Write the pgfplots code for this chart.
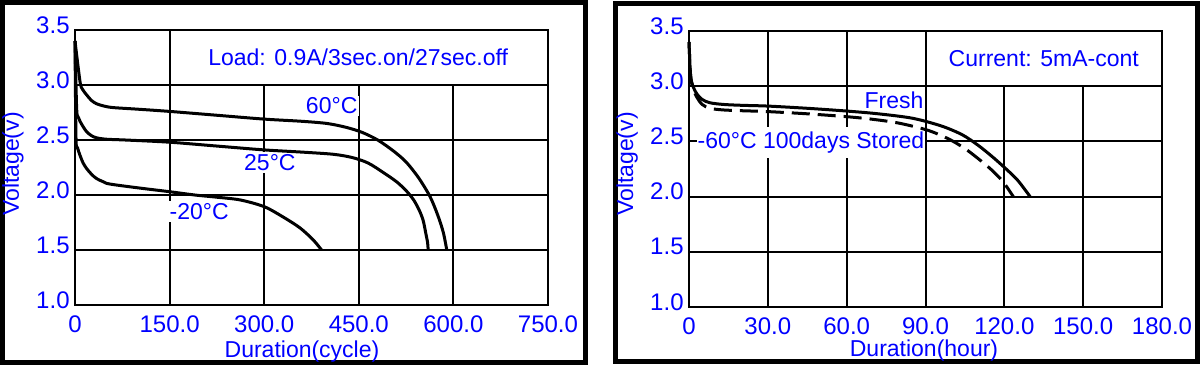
\documentclass[border=0pt]{standalone}
\usepackage{pgfplots}
\pgfplotsset{compat=1.18}
\usepackage{fontspec}
\setmainfont{Liberation Sans}
\begin{document}
\fontsize{11.5}{13}\selectfont
\begin{tikzpicture}
\useasboundingbox (0,0) rectangle (600.5pt,183pt);
\pgfplotsset{
  battery/.style={
    scale only axis,
    width=236.5pt,
    anchor=south west,
    ymin=1, ymax=3.5,
    ytick={1,1.5,2,2.5,3,3.5},
    yticklabels={1.0,1.5,2.0,2.5,3.0,3.5},
    grid=major,
    major grid style={black, line width=1pt},
    axis line style={black, line width=1pt},
    major tick length=0pt,
    tick label style={text=blue, font=\fontsize{12}{14}\selectfont},
    xticklabel style={inner sep=0pt, yshift=-5pt},
    yticklabel style={inner sep=0pt, xshift=-2.5pt, yshift=2.5pt},
    /pgf/number format/assume math mode=true,
    clip=false,
  },
  curve/.style={black, line width=1.5pt, smooth, tension=0.5, no markers, line join=round},
}
% ---------------- left panel
\begin{axis}[battery, at={(37.5pt,30.5pt)}, height=137.5pt,
  xmin=0, xmax=750, xtick={0,150,300,450,600,750},
  xticklabels={0,150.0,300.0,450.0,600.0,750.0}]
\draw[fill=white, line width=1pt] (axis cs:150,3.0) rectangle (axis cs:750,3.5);
\node[text=blue] at (axis cs:449,3.255) {Load: 0.9A/3sec.on/27sec.off};
\node[text=blue, fill=white, inner sep=1pt] at (axis cs:407,2.81) {60°C};
\node[text=blue, fill=white, inner sep=1pt] at (axis cs:309,2.295) {25°C};
\node[text=blue, fill=white, inner sep=1pt] at (axis cs:197,1.85) {-20°C};
\addplot[curve] coordinates {
 (0,3.40) (8,3.03) (12,2.96) (18.5,2.91) (26,2.86) (34,2.83) (45,2.81) (60,2.795)
 (100,2.78) (150,2.76) (225,2.725) (300,2.69) (360,2.67) (400,2.65) (430,2.615)
 (455,2.57) (480,2.50) (505,2.40) (525,2.30) (545,2.155) (563,1.985) (575,1.82)
 (584,1.66) (589.5,1.5)};
\addplot[curve] coordinates {
 (0,3.40) (2.6,2.79) (5,2.71) (8,2.67) (13,2.62) (18.5,2.575) (26,2.54) (34,2.52)
 (50,2.507) (80,2.50) (150,2.48) (225,2.445) (300,2.41) (360,2.39) (410,2.37)
 (440,2.34) (465,2.29) (490,2.20) (510,2.12) (525,2.04) (537,1.955) (546,1.86)
 (552,1.77) (556,1.66) (559,1.57) (560,1.5)};
\addplot[curve] coordinates {
 (0,3.40) (1.6,2.515) (4,2.43) (8,2.36) (13,2.29) (18.5,2.24) (26,2.19) (34,2.15)
 (45,2.12) (55,2.10) (100,2.065) (150,2.03) (190,2.00) (225,1.98) (262,1.955)
 (300,1.894) (330,1.80) (357,1.70) (378,1.59) (391,1.5)};
\end{axis}
\draw[line width=2.5pt] (1.25pt,1.75pt) rectangle (292.5pt,181.75pt);
\node[text=blue, anchor=base] at (151pt,4.5pt) {Duration(cycle)};
\node[text=blue, anchor=base, rotate=90] at (9.5pt,101pt) {Voltage(v)};
% ---------------- right panel
\begin{axis}[battery, at={(344.5pt,29.5pt)}, height=138pt,
  xmin=0, xmax=180, xtick={0,30,60,90,120,150,180},
  xticklabels={0,30.0,60.0,90.0,120.0,150.0,180.0}]
\draw[fill=white, line width=1pt] (axis cs:90,3.0) rectangle (axis cs:180,3.5);
\node[text=blue] at (axis cs:135,3.25) {Current: 5mA-cont};
\node[text=blue, fill=white, inner sep=1pt] at (axis cs:78,2.87) {Fresh};
\node[text=blue, fill=white, inner xsep=0.5pt, inner ysep=2.5pt] at (axis cs:46.4,2.49) {-60°C 100days Stored};
\addplot[curve] coordinates {
 (0,3.40) (0.6,3.1) (1.5,3.0) (3,2.93) (5,2.88) (8,2.85) (13,2.835) (20,2.827)
 (30,2.82) (45,2.80) (60,2.775) (72,2.75) (85,2.71) (96,2.64) (104,2.56) (110,2.465)
 (115,2.37) (120,2.265) (125,2.15) (129.8,2.0)};
\addplot[curve, dash pattern=on 9pt off 4pt] coordinates {
 (0,3.40) (0.6,3.1) (1.5,2.98) (3,2.90) (5,2.835) (8,2.80) (13,2.785) (20,2.778)
 (30,2.77) (45,2.75) (60,2.724) (70,2.70) (80,2.665) (91,2.60) (99,2.52) (105,2.435)
 (110,2.345) (115,2.245) (119.5,2.135) (123.4,2.0)};
\end{axis}
\draw[line width=2.5pt] (307.5pt,2.25pt) rectangle (598.5pt,181.25pt);
\node[text=blue, anchor=base] at (462pt,5pt) {Duration(hour)};
\node[text=blue, anchor=base, rotate=90] at (316.5pt,101pt) {Voltage(v)};
\end{tikzpicture}
\end{document}
